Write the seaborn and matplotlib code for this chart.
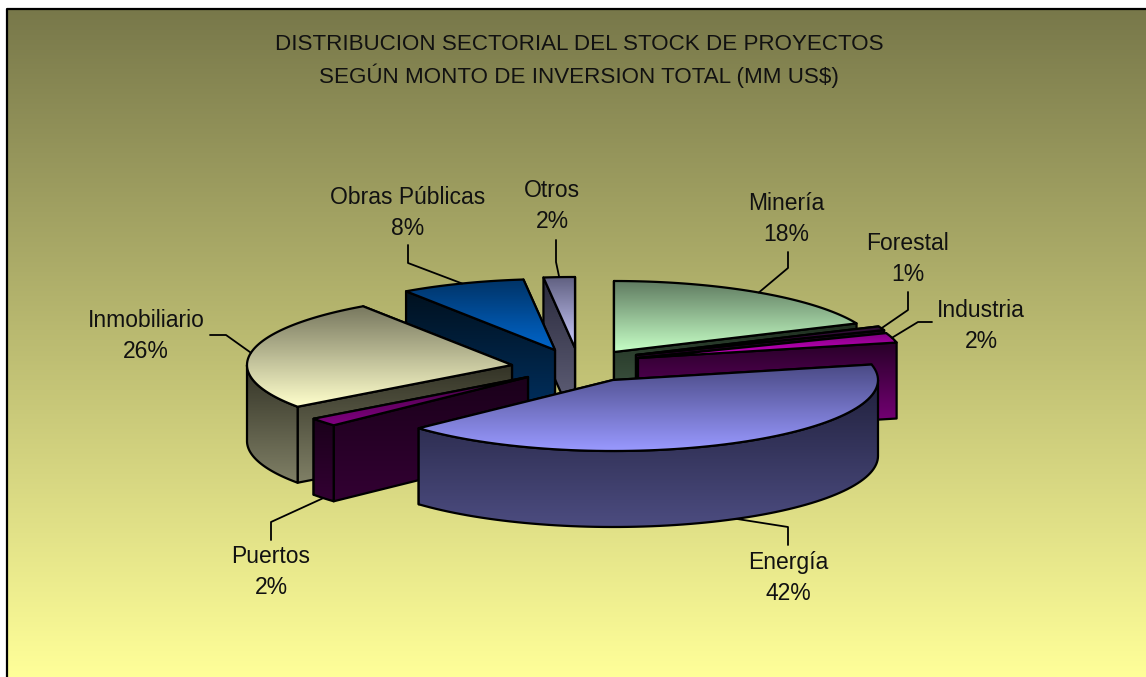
# Distribucion sectorial - torta 3D separada, estilo Excel
import numpy as np
import matplotlib
matplotlib.use('Agg')
import matplotlib.pyplot as plt
from matplotlib.patches import Polygon
import seaborn as sns

# datos
sectores = ['Minería', 'Forestal', 'Industria', 'Energía', 'Puertos', 'Inmobiliario', 'Obras Públicas', 'Otros']
montos = [18.4, 0.9, 2.2, 41.6, 1.9, 25.5, 7.6, 1.9]
titulo = ['DISTRIBUCION SECTORIAL DEL STOCK DE PROYECTOS', 'SEGÚN MONTO DE INVERSION TOTAL (MM US$)']

# separacion de cada porcion respecto al centro (px)
sep_x = [35, 57, 59, 34, -51, -67, -24, -4]
sep_y = [-22, -19, -16, 6, 3, -9, -24, -26]

# colores: tapa (arriba, abajo) y lados (arriba, abajo)
tapa = [('#5f7a60', '#c6ffc6'), ('#2a1030', '#500050'), ('#800080', '#d000c8'), ('#4a4a85', '#9999ff'),
        ('#400040', '#800080'), ('#78785f', '#ffffcc'), ('#003366', '#0066cc'), ('#5f5f7f', '#ccccff')]
lado = [('#1f2f20', '#4c6650'), ('#1a001a', '#400040'), ('#280028', '#800080'), ('#20203c', '#4c4c80'),
        ('#1a001a', '#330033'), ('#333326', '#808066'), ('#00111f', '#003366'), ('#2a2a3c', '#66667f')]

# orden de dibujo, de atras hacia adelante
orden = [7, 6, 0, 1, 2, 5, 4, 3]

# etiquetas: centro del texto y codo de la linea guia
pos_texto = [(786, 219), (908, 259), (981, 326), (788, 578), (271, 572), (146, 336), (408, 213), (552, 206)]
codo = [[(788, 268), (788, 252)], [(908, 310), (908, 292)], [(918, 322), (932, 322)], [(788, 527), (788, 545)],
        [(271, 522), (271, 540)], [(226, 335), (210, 335)], [(408, 263), (408, 245)], [(556, 262), (556, 240)]]

cx, cy = 579, 374
rx, ry = 265, 71
alto = 76

sns.set_theme(style='white')
plt.rcParams['font.family'] = ['Liberation Sans', 'DejaVu Sans']

fig = plt.figure(figsize=(11.46, 6.77), dpi=100, facecolor='white')
ax = fig.add_axes([0, 0, 1, 1])
ax.axis('off')

z = [1]


def degradado(puntos, c1, c2):
    xy = np.array(puntos)
    cmap = sns.blend_palette([c1, c2], as_cmap=True)
    y0, y1 = xy[:, 1].min(), xy[:, 1].max()
    x0, x1 = xy[:, 0].min(), xy[:, 0].max()
    im = ax.imshow(np.linspace(0, 1, 128).reshape(-1, 1), cmap=cmap, aspect='auto', vmin=0, vmax=1,
                   extent=(x0, x1 + 0.01, y1 + 0.01, y0), zorder=z[0], interpolation='bilinear')
    pol = Polygon(xy, closed=True, fill=False, edgecolor='black', linewidth=1.6, zorder=z[0] + 1, joinstyle='round')
    ax.add_patch(pol)
    im.set_clip_path(pol)
    z[0] += 2


def punto(apice, ang):
    return apice[0] + rx * np.sin(ang), apice[1] - ry * np.cos(ang)


# fondo
fondo = ax.imshow(np.linspace(0, 1, 256).reshape(-1, 1), aspect='auto', zorder=0,
                  cmap=sns.blend_palette(['#78784a', '#ffff99'], as_cmap=True), extent=(7, 1146, 677, 9))
ax.plot([7, 7, 1146], [677, 9, 9], color='black', lw=1.6, zorder=0.5)

total = sum(montos)
acum = np.cumsum([0] + montos) / total * 2 * np.pi

for i in orden:
    a0, a1 = acum[i], acum[i + 1]
    apice = (cx + sep_x[i], cy + sep_y[i])
    arco = [punto(apice, a) for a in np.linspace(a0, a1, 80)]

    # caras de corte, primero la de mas atras
    cortes = sorted([arco[0], arco[-1]], key=lambda p: p[1])
    for p in cortes:
        degradado([apice, p, (p[0], p[1] + alto), (apice[0], apice[1] + alto)], *lado[i])

    # pared exterior, solo la parte que mira al frente
    ini, fin = max(a0, np.pi / 2), min(a1, 3 * np.pi / 2)
    if fin > ini:
        frente = [punto(apice, a) for a in np.linspace(ini, fin, 80)]
        abajo = [(x, y + alto) for x, y in frente]
        degradado(frente + abajo[::-1], *lado[i])

    # tapa
    degradado([apice] + arco, *tapa[i])

# lineas guia y textos
for i in range(len(sectores)):
    am = (acum[i] + acum[i + 1]) / 2
    x, y = punto((cx + sep_x[i], cy + sep_y[i]), am)
    if np.cos(am) < 0:
        y += alto
    cam = [(x, y)] + codo[i]
    ax.plot([p[0] for p in cam], [p[1] for p in cam], color='black', lw=1.3, zorder=z[0])
    ax.text(pos_texto[i][0], pos_texto[i][1], f'{sectores[i]}\n{round(montos[i])}%', ha='center', va='center',
            fontsize=16.5, linespacing=1.46, color='#111111', zorder=z[0] + 1)

ax.text(579, 61, '\n'.join(titulo), ha='center', va='center', fontsize=16.1, linespacing=1.42, color='#111111', zorder=z[0] + 1)

ax.set_xlim(0, 1146)
ax.set_ylim(677, 0)
fig.savefig('out.png', dpi=100, facecolor='white')
